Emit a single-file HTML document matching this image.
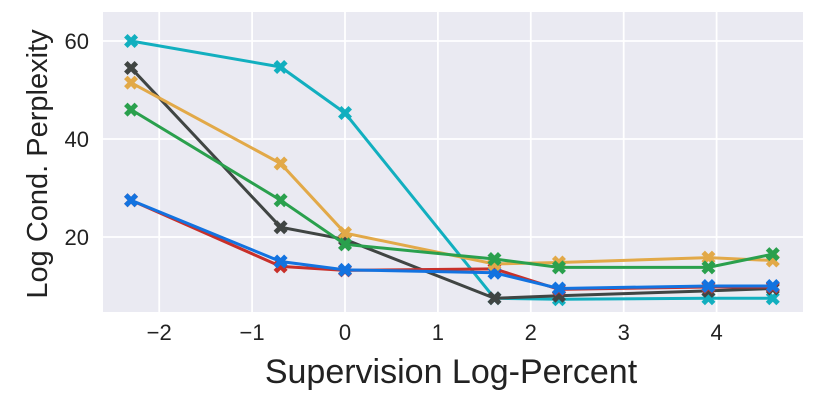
<!DOCTYPE html>
<html><head><meta charset="utf-8"><style>
body{margin:0;background:#fff}
text{font-family:"Liberation Sans",sans-serif;fill:#222}
</style></head><body>
<svg id="chart" width="830" height="415" xmlns="http://www.w3.org/2000/svg">
<rect x="103" y="12" width="700" height="300" fill="#eaeaf2"/>
<g id="grid"></g><g id="series"></g><g id="ticks"></g>
<text x="451" y="383" font-size="34" text-anchor="middle">Supervision Log-Percent</text>
<text transform="translate(47,164) rotate(-90)" font-size="29" text-anchor="middle">Log Cond. Perplexity</text>
</svg>
<script>
const xVals=[-2.303,-0.693,0,1.609,2.303,3.912,4.605];
const xTicks=[-2,-1,0,1,2,3,4];
const yTicks=[20,40,60];
const seriesNames=["cyan","dark","red","blue","orange","green"];
const cyanVals=[60,54.7,45.3,7.5,7.3,7.5,7.5];
const darkVals=[54.5,22,19.5,7.5,8,9,9.5];
const redVals=[27.5,14,13.2,13.5,9.3,9.8,9.8];
const blueVals=[27.5,15,13.3,12.7,9.5,10,10];
const orangeVals=[51.5,35,20.8,14.5,14.8,15.8,15.2];
const greenVals=[46,27.5,18.5,15.5,13.8,13.8,16.5];
const colors={cyan:"#12afbf",dark:"#404543",red:"#c8302a",blue:"#1373e0",orange:"#e2a948",green:"#2aa04d"};
const vals={cyan:cyanVals,dark:darkVals,red:redVals,blue:blueVals,orange:orangeVals,green:greenVals};
const X=v=>345+v*92.9, Y=v=>335-v*4.9;
const NS="http://www.w3.org/2000/svg";
const mk=(t,a,p)=>{const e=document.createElementNS(NS,t);for(const k in a)e.setAttribute(k,a[k]);p.appendChild(e);return e;};
const g=document.getElementById('grid'),tk=document.getElementById('ticks'),s=document.getElementById('series');
xTicks.forEach(t=>{const l=mk('line',{x1:X(t),x2:X(t),y1:12,y2:312,stroke:'#fff','stroke-width':1.8},g);

const tx=mk('text',{x:X(t),y:340,'font-size':22,'text-anchor':'middle'},tk);tx.textContent=t<0?'\u2212'+(-t):t;
});
yTicks.forEach(t=>{const l=mk('line',{x1:103,x2:803,y1:Y(t),y2:Y(t),stroke:'#fff','stroke-width':1.8},g);

const tx=mk('text',{x:89,y:Y(t)+8,'font-size':22,'text-anchor':'end'},tk);tx.textContent=t;
});
const xp="M-7,-3.5 L-3.5,-7 L0,-3.5 L3.5,-7 L7,-3.5 L3.5,0 L7,3.5 L3.5,7 L0,3.5 L-3.5,7 L-7,3.5 L-3.5,0Z";
seriesNames.forEach(n=>{const d=vals[n],c=colors[n];
const pl=mk('polyline',{points:d.map((v,i)=>X(xVals[i])+','+Y(v)).join(' '),fill:'none',stroke:c,'stroke-width':3},s);

d.forEach((v,i)=>{const m=mk('path',{d:xp,transform:`translate(${X(xVals[i])},${Y(v)})`,fill:c},s);
});});
</script>
</body></html>
